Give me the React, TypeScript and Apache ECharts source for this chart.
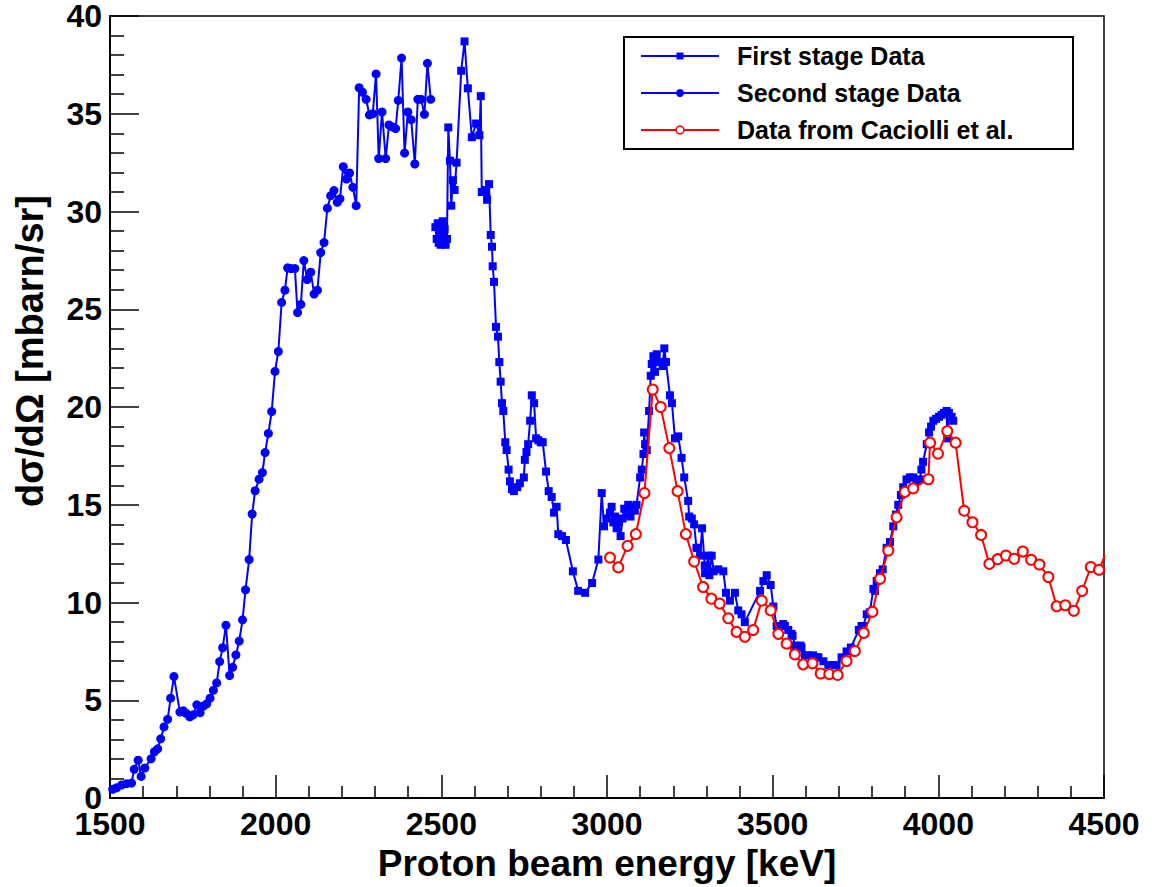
import React, { useEffect, useRef } from "react";
import * as echarts from "echarts";

// Second stage data (filled circles)
const secondE = [1508,1520,1535,1550,1565,1573,1585,1594,1605,1624,1634,1644,1653,1663,1674,1683,1693,1711,1721,1731,1741,1751,1762,1772,1782,1792,1802,1812,1822,1831,1840,1850,1861,1870,1880,1890,1900,1909,1920,1929,1938,1950,1960,1968,1978,1988,1998,2008,2018,2028,2036,2046,2058,2066,2076,2085,2095,2106,2116,2126,2136,2146,2156,2166,2176,2186,2194,2204,2214,2223,2233,2243,2252,2262,2273,2283,2293,2303,2311,2321,2332,2342,2352,2362,2370,2380,2389,2399,2409,2420,2429,2439,2449,2458,2468];
const secondV = [0.45,0.53,0.67,0.74,0.77,1.47,1.94,1.11,1.54,2.01,2.37,2.52,3.03,3.64,4.03,5.11,6.22,4.40,4.47,4.32,4.15,4.26,4.77,4.37,4.71,4.82,5.11,5.51,5.89,6.98,7.69,8.84,6.27,6.69,7.32,8.03,9.12,10.65,12.2,14.53,15.72,16.31,16.65,17.67,18.65,19.77,21.82,22.84,25.35,25.98,27.12,27.08,27.08,24.83,25.25,27.49,26.52,26.9,25.78,25.98,27.9,28.41,30.17,30.81,31.07,30.47,30.65,32.29,31.66,31.97,31.24,30.3,36.33,36.1,35.74,34.94,35.0,37.04,32.71,35.09,32.71,34.43,34.33,34.24,35.68,37.85,32.99,35.09,34.7,32.43,35.74,35.74,34.97,37.58,35.74];

// First stage data (filled squares)
const firstE = [2482,2486,2489,2492,2495,2498,2501,2504,2507,2510,2513,2517,2521,2526,2530,2535,2540,2546,2560,2570,2580,2592,2605,2615,2619,2622,2633,2638,2644,2649,2653,2655,2659,2665,2671,2675,2679,2683,2687,2693,2697,2703,2707,2713,2719,2729,2737,2749,2752,2757,2762,2768,2773,2780,2786,2793,2800,2806,2816,2824,2833,2840,2848,2853,2864,2876,2897,2913,2934,2955,2974,2984,2991,2999,3009,3014,3019,3024,3029,3034,3041,3047,3052,3059,3064,3071,3077,3084,3089,3100,3105,3110,3112,3115,3120,3127,3132,3135,3140,3145,3150,3160,3168,3173,3178,3190,3196,3205,3215,3225,3233,3245,3248,3256,3263,3270,3274,3281,3287,3295,3296,3306,3309,3316,3322,3336,3351,3359,3371,3386,3396,3406,3416,3462,3472,3482,3494,3502,3512,3522,3532,3537,3547,3557,3560,3567,3577,3584,3587,3597,3607,3622,3632,3638,3653,3668,3683,3693,3708,3723,3736,3760,3768,3773,3784,3793,3804,3809,3814,3824,3832,3844,3854,3864,3872,3879,3887,3894,3904,3914,3924,3934,3944,3949,3954,3965,3972,3978,3985,3993,4002,4010,4017,4025,4027,4032,4040,4045];
const firstV = [29.2,28.6,29.4,28.4,29.0,28.3,28.8,29.5,28.5,29.1,28.3,28.6,34.3,32.6,30.3,31.6,31.1,32.5,37.2,38.7,36.3,33.8,34.5,33.9,35.9,31.0,31.1,30.6,31.4,28.8,28.2,27.2,26.4,24.1,23.6,22.3,21.3,20.2,19.8,18.2,17.8,16.8,16.2,15.8,15.7,15.9,16.1,16.4,17.3,17.7,18.1,19.3,20.6,20.2,18.4,18.3,18.2,18.2,16.7,15.7,15.4,14.6,14.9,13.5,13.4,13.2,11.6,10.6,10.5,11.0,12.2,15.6,13.9,14.3,14.6,14.9,14.1,14.4,13.8,14.1,13.4,14.3,14.8,14.5,15.0,14.4,14.9,14.7,15.0,16.4,16.8,17.6,18.7,18.1,17.8,19.8,21.6,22.2,22.6,21.8,22.7,22.3,22.1,23.0,22.3,20.6,20.2,18.4,18.5,17.4,16.4,15.2,14.4,14.3,14.0,12.8,12.8,12.4,13.8,11.9,11.5,12.4,11.4,12.4,11.6,11.7,11.6,10.5,10.1,10.5,9.6,9.4,9.0,10.6,11.1,11.4,10.9,9.8,8.8,8.8,8.9,8.8,8.6,8.4,8.3,7.8,7.7,7.8,7.7,7.3,7.3,7.3,7.2,7.2,7.0,6.8,6.8,6.8,7.2,7.5,7.7,8.6,8.8,8.8,9.4,9.5,10.7,10.6,11.1,11.5,11.7,12.8,13.1,13.9,14.5,15.0,15.5,15.9,16.3,16.4,16.4,16.2,16.3,16.8,17.2,18.1,18.7,19.0,19.3,19.4,19.5,19.6,19.7,19.8,18.4,19.7,19.5,19.3];

// Data from Caciolli et al. (open circles)
const cacE = [3009,3034,3062,3087,3113,3138,3162,3188,3213,3238,3263,3290,3315,3340,3366,3391,3416,3441,3467,3494,3517,3542,3567,3592,3620,3645,3671,3696,3723,3748,3775,3801,3824,3849,3874,3899,3924,3970,3975,3999,4027,4052,4078,4103,4129,4154,4179,4204,4229,4255,4280,4305,4332,4357,4383,4409,4434,4460,4485,4510];
const cacV = [12.3,11.8,12.9,13.5,15.6,20.9,20.0,17.9,15.7,13.5,12.1,10.8,10.2,9.95,9.2,8.5,8.25,8.6,10.1,9.6,8.4,7.9,7.35,6.84,6.9,6.37,6.34,6.3,7.01,7.52,8.45,9.53,11.22,12.66,14.36,15.66,15.84,16.31,18.18,17.62,18.77,18.18,14.7,14.11,13.46,11.98,12.22,12.41,12.24,12.61,12.19,11.95,11.31,9.81,9.86,9.58,10.6,11.82,11.68,12.7];

const seriesNames = ["First stage Data", "Second stage Data", "Data from Caciolli et al."];
const xTitle = "Proton beam energy [keV]";
const yTitle = "dσ/dΩ [mbarn/sr]";

const pairs = (xs: number[], ys: number[]) => xs.map((x, i) => [x, ys[i]]);

const FONT = '"Liberation Sans", Arial, Helvetica, sans-serif';
const BLUE = "#0000ff";
const RED = "#ff0000";

export default function App() {
  const ref = useRef<HTMLDivElement>(null);
  useEffect(() => {
    if (!ref.current) return;
    const chart = echarts.init(ref.current, undefined, { renderer: "svg" });
    const lx0 = 641, lx1 = 719, lxm = 680, ltx = 737;
    const rows = [56, 93, 130];
    chart.setOption({
      animation: false,
      backgroundColor: "#ffffff",
      grid: {
        left: 110,
        right: 48,
        top: 14,
        bottom: 87,
        show: true,
        borderColor: "#000",
        borderWidth: 1.5,
        backgroundColor: "transparent",
      },
      xAxis: {
        type: "value",
        min: 1500,
        max: 4500,
        interval: 500,
        axisLine: { show: true, lineStyle: { color: "#000", width: 2 } },
        axisTick: { show: true, inside: true, length: 23, lineStyle: { color: "#000", width: 1.5 } },
        minorTick: { show: true, splitNumber: 5, length: 12, lineStyle: { color: "#000", width: 1.5 } },
        splitLine: { show: false },
        axisLabel: {
          color: "#000",
          fontFamily: FONT,
          fontWeight: "bold",
          fontSize: 32,
          margin: 10,
          showMinLabel: true,
          showMaxLabel: true,
          formatter: (v: number) => String(v),
        },
        name: xTitle,
        nameLocation: "middle",
        nameGap: 42,
        nameTextStyle: { color: "#000", fontFamily: FONT, fontWeight: "bold", fontSize: 37 },
      },
      yAxis: {
        type: "value",
        min: 0,
        max: 40,
        interval: 5,
        axisLine: { show: true, lineStyle: { color: "#000", width: 2 } },
        axisTick: { show: true, inside: true, length: 29, lineStyle: { color: "#000", width: 1.5 } },
        minorTick: { show: true, splitNumber: 5, length: 14, lineStyle: { color: "#000", width: 1.5 } },
        splitLine: { show: false },
        axisLabel: {
          color: "#000",
          fontFamily: FONT,
          fontWeight: "bold",
          fontSize: 32,
          margin: 8,
          formatter: (v: number) => String(v),
        },
      },
      graphic: [
        {
          type: "text",
          x: 30,
          y: 351,
          rotation: Math.PI / 2,
          style: {
            text: yTitle,
            font: `bold 38px ${FONT}`,
            fill: "#000",
            align: "center",
            verticalAlign: "middle",
          },
        },
        {
          type: "rect",
          shape: { x: 624, y: 37, width: 449, height: 112 },
          style: { fill: "#fff", stroke: "#000", lineWidth: 2 },
          z: 100,
        },
        ...rows.flatMap((ry, i) => {
          const color = i === 2 ? RED : BLUE;
          const els: any[] = [
            {
              type: "line",
              shape: { x1: lx0, y1: ry, x2: lx1, y2: ry },
              style: { stroke: color, lineWidth: 2 },
              z: 101,
            },
          ];
          if (i === 0) {
            els.push({
              type: "rect",
              shape: { x: lxm - 3.5, y: ry - 3.5, width: 7, height: 7 },
              style: { fill: BLUE },
              z: 102,
            });
          } else if (i === 1) {
            els.push({
              type: "circle",
              shape: { cx: lxm, cy: ry, r: 4 },
              style: { fill: BLUE },
              z: 102,
            });
          } else {
            els.push({
              type: "circle",
              shape: { cx: lxm, cy: ry, r: 4 },
              style: { fill: "#fff", stroke: RED, lineWidth: 1.5 },
              z: 102,
            });
          }
          els.push({
            type: "text",
            x: ltx,
            y: ry,
            style: {
              text: seriesNames[i],
              font: `bold 25px ${FONT}`,
              fill: "#000",
              align: "left",
              verticalAlign: "middle",
            },
            z: 102,
          });
          return els;
        }),
      ],
      series: [
        {
          name: seriesNames[1],
          type: "line",
          data: pairs(secondE, secondV),
          symbol: "circle",
          symbolSize: 9,
          showSymbol: true,
          color: BLUE,
          lineStyle: { color: BLUE, width: 2 },
          itemStyle: { color: BLUE },
          clip: true,
          z: 2,
        },
        {
          name: seriesNames[0],
          type: "line",
          data: pairs(firstE, firstV),
          symbol: "rect",
          symbolSize: 8,
          showSymbol: true,
          color: BLUE,
          lineStyle: { color: BLUE, width: 2 },
          itemStyle: { color: BLUE },
          clip: true,
          z: 3,
        },
        {
          name: seriesNames[2],
          type: "line",
          data: pairs(cacE, cacV),
          symbol: "emptyCircle",
          symbolSize: 10,
          showSymbol: true,
          color: RED,
          lineStyle: { color: RED, width: 2 },
          itemStyle: { color: RED, borderColor: RED, borderWidth: 1.5 },
          clip: true,
          z: 4,
        },
      ],
    });
    return () => chart.dispose();
  }, []);
  return (
    <div
      ref={ref}
      style={{ position: "fixed", left: 0, top: 0, width: 1152, height: 887, background: "#fff" }}
    />
  );
}
